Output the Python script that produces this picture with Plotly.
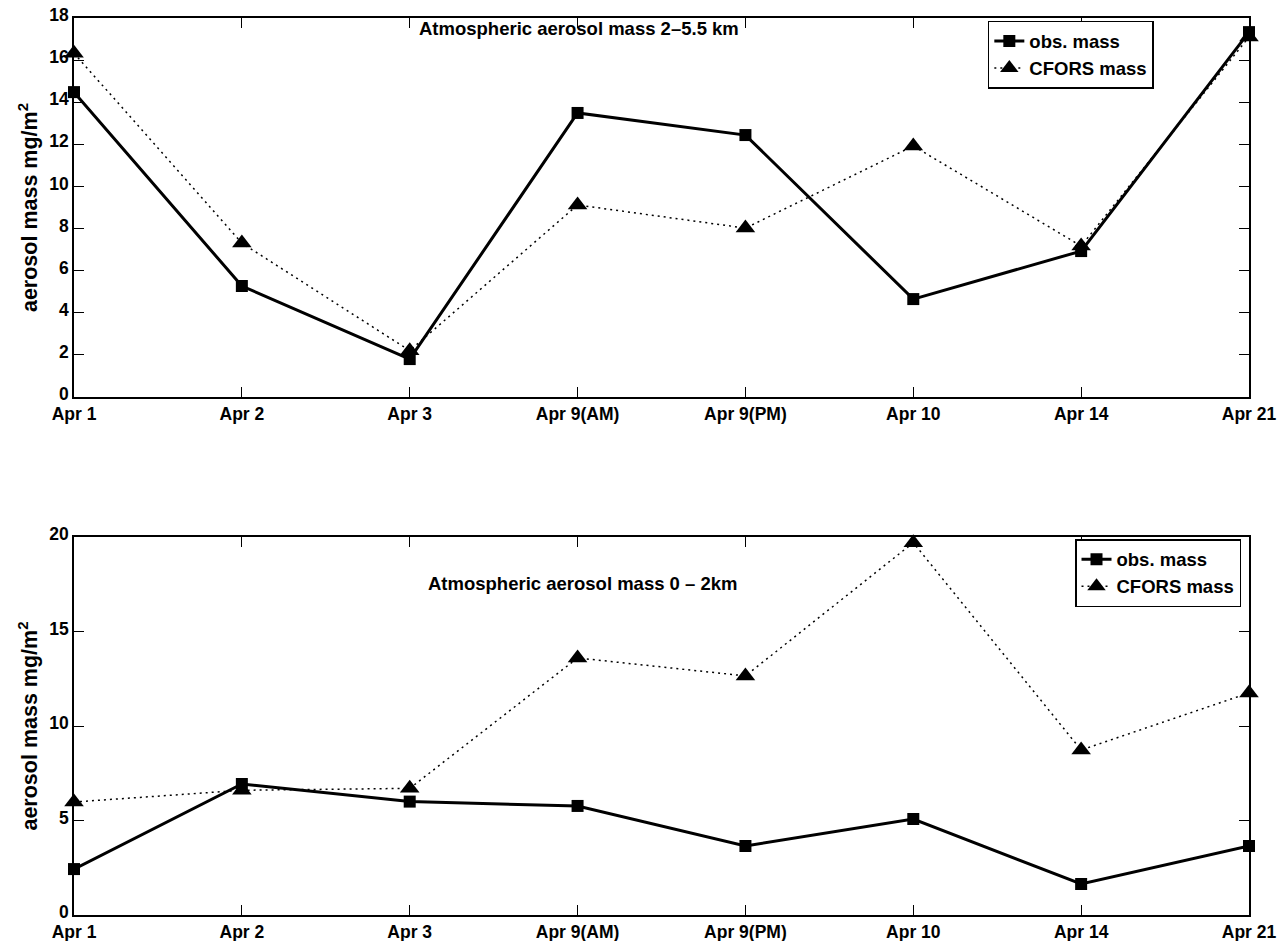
import plotly.graph_objects as go
from plotly.subplots import make_subplots

categories = ["Apr 1", "Apr 2", "Apr 3", "Apr 9(AM)", "Apr 9(PM)", "Apr 10", "Apr 14", "Apr 21"]
top_obs = [14.48, 5.27, 1.8, 13.49, 12.44, 4.65, 6.93, 17.33]
top_cfors = [16.33, 7.31, 2.2, 9.12, 8.02, 11.92, 7.17, 17.1]
bot_obs = [2.43, 6.93, 6.0, 5.77, 3.65, 5.08, 1.64, 3.65]
bot_cfors = [5.98, 6.6, 6.7, 13.6, 12.65, 19.7, 8.73, 11.75]
top_title = "Atmospheric aerosol mass 2\u20135.5 km"
bot_title = "Atmospheric aerosol mass 0 \u2013 2km"
y_label = "aerosol mass mg/m<sup>2</sup>"

xpos = list(range(len(categories)))
FONT = "Liberation Sans, Arial, sans-serif"

fig = make_subplots(rows=2, cols=1)

def add_pair(obs, cfors, row, legend):
    fig.add_trace(go.Scatter(x=xpos, y=obs, mode="lines+markers", name="obs. mass",
                             line=dict(color="black", width=3),
                             marker=dict(symbol="square", size=12, color="black"),
                             cliponaxis=False, legend=legend), row=row, col=1)
    fig.add_trace(go.Scatter(x=xpos, y=cfors, mode="lines+markers", name="CFORS mass",
                             line=dict(color="black", width=1.5, dash="2px,4px"),
                             marker=dict(symbol="triangle-up", size=17, color="black"),
                             cliponaxis=False, legend=legend), row=row, col=1)

add_pair(top_obs, top_cfors, 1, "legend")
add_pair(bot_obs, bot_cfors, 2, "legend2")

axis_common = dict(showline=True, linecolor="black", linewidth=1.5, mirror="allticks",
                   ticks="inside", ticklen=10, tickwidth=1, tickcolor="black",
                   showgrid=False, zeroline=False, automargin=False,
                   tickfont=dict(family=FONT, size=17.5, color="black", weight="bold"))

for r in (1, 2):
    fig.update_xaxes(range=[0, 7], tickvals=xpos, ticktext=categories,
                     **axis_common, row=r, col=1)

fig.update_yaxes(range=[0, 18], tickvals=list(range(0, 19, 2)), ticklabelshift=-3,
                 **axis_common, row=1, col=1)
fig.update_yaxes(range=[0, 20], tickvals=[0, 5, 10, 15, 20], ticklabelshift=-3,
                 **axis_common, row=2, col=1)
for r in (1, 2):
    fig.update_yaxes(title=dict(text=y_label, standoff=6,
                                font=dict(family=FONT, size=21.5, color="black", weight="bold")),
                     row=r, col=1)

fig.update_layout(
    width=1278, height=941,
    margin=dict(l=74, r=29, t=18, b=26, autoexpand=False),
    paper_bgcolor="white", plot_bgcolor="white",
    font=dict(family=FONT, color="black"),
    showlegend=True,
    xaxis=dict(domain=[0, 1]),
    yaxis=dict(domain=[0.5775, 1]),
    xaxis2=dict(domain=[0, 1]),
    yaxis2=dict(domain=[0, 0.4214]),
    legend=dict(x=0.919, y=0.9967, xanchor="right", yanchor="top",
                bordercolor="black", borderwidth=1.5, bgcolor="white",
                font=dict(family=FONT, size=18.5, weight="bold"), tracegroupgap=0,
                itemwidth=30),
    legend2=dict(x=0.9932, y=0.419, xanchor="right", yanchor="top",
                 bordercolor="black", borderwidth=1.5, bgcolor="white",
                 font=dict(family=FONT, size=18.5, weight="bold"), tracegroupgap=0,
                 itemwidth=30),
)

fig.add_annotation(text=top_title, xref="x domain", yref="y domain", x=0.43, y=0.972,
                   xanchor="center", yanchor="middle", showarrow=False,
                   font=dict(family=FONT, size=18.5, color="black", weight="bold"))
fig.add_annotation(text=bot_title, xref="x2 domain", yref="y2 domain", x=0.433, y=0.878,
                   xanchor="center", yanchor="middle", showarrow=False,
                   font=dict(family=FONT, size=18.5, color="black", weight="bold"))

fig.write_html("out.html")
